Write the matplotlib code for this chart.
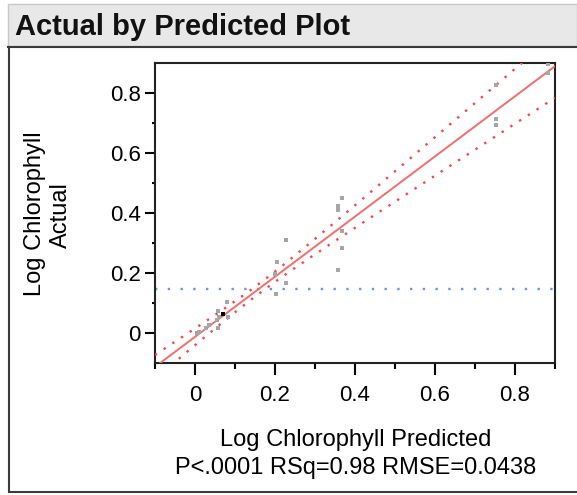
import matplotlib
matplotlib.use("Agg")
import matplotlib.pyplot as plt
import numpy as np
from matplotlib.lines import Line2D
from matplotlib.patches import Rectangle

plt.rcParams["font.family"] = ["Liberation Sans", "DejaVu Sans"]

# ---------------------------------------------------------------------------
# Data
# ---------------------------------------------------------------------------
predicted = [0.882, 0.882, 0.752, 0.752, 0.752,
             0.367, 0.357, 0.357, 0.367, 0.367, 0.357,
             0.227, 0.204, 0.201, 0.227, 0.202,
             0.079, 0.058, 0.061, 0.056, 0.083, 0.058,
             0.036, 0.028, 0.011, 0.004]
actual = [0.894, 0.864, 0.825, 0.711, 0.691,
          0.451, 0.422, 0.411, 0.339, 0.283, 0.211,
          0.311, 0.238, 0.198, 0.167, 0.131,
          0.103, 0.075, 0.055, 0.044, 0.055, 0.017,
          0.028, 0.017, 0.005, 0.000]
highlight_pred = [0.069]
highlight_actual = [0.064]

# fit summary
FIT_SLOPE = 1.0
FIT_INTERCEPT = -0.012
MEAN_ACTUAL = 0.148
MEAN_PRED = 0.160
N_OBS = 30
SXX = 0.41
T_CRIT = 2.05
RMSE = 0.0438
RSQ = 0.98

XLIM = (-0.1, 0.9)
YLIM = (-0.1, 0.9)

C_FIT = "#f06e6e"
C_BAND = "#f04848"
C_MEAN = "#6a94ec"
C_POINT = "#a6a6a6"

W, H = 577, 495


def fx(px):
    return px / W


def fy(py):
    return 1 - py / H


fig = plt.figure(figsize=(W / 100, H / 100), dpi=100)

# header bar + outline frame
fig.patches.append(Rectangle((fx(8), fy(46)), 1 - fx(8), fy(4) - fy(46),
                             transform=fig.transFigure, facecolor="#e8e8e8",
                             edgecolor="#c8c8c8", linewidth=1.0, zorder=0))
fig.lines.append(Line2D([fx(8), 1], [fy(46.5), fy(46.5)], transform=fig.transFigure,
                        color="#3a3a3a", linewidth=1.5))
fig.lines.append(Line2D([fx(9), fx(9)], [fy(46.5), fy(491.5)], transform=fig.transFigure,
                        color="#3a3a3a", linewidth=1.5))
fig.lines.append(Line2D([fx(9), 1], [fy(491.5), fy(491.5)], transform=fig.transFigure,
                        color="#3a3a3a", linewidth=1.5))
fig.text(fx(15), fy(35), "Actual by Predicted Plot", fontsize=21, fontweight="bold",
         va="baseline", ha="left", color="#111111")

ax = fig.add_axes([fx(155), fy(363.3), fx(555) - fx(155), fy(62.6) - fy(363.3)])

xs = np.linspace(XLIM[0], XLIM[1], 200)
fit = FIT_INTERCEPT + FIT_SLOPE * xs
half = T_CRIT * RMSE * np.sqrt(1 / N_OBS + (xs - MEAN_PRED) ** 2 / SXX)

ax.axhline(MEAN_ACTUAL, color=C_MEAN, linewidth=1.7, linestyle=(0, (1, 4.4)), zorder=2)
ax.plot(xs, fit + half, color=C_BAND, linewidth=1.7, linestyle=(0, (1, 3.4)), zorder=3)
ax.plot(xs, fit - half, color=C_BAND, linewidth=1.7, linestyle=(0, (1, 3.4)), zorder=3)
ax.plot(xs, fit, color=C_FIT, linewidth=1.4, zorder=3)
ax.plot(predicted, actual, "s", color=C_POINT, markersize=3.2, markeredgewidth=0, zorder=4)
ax.plot(highlight_pred, highlight_actual, "s", color="black", markersize=3.2,
        markeredgewidth=0, zorder=5)

ax.set_xlim(*XLIM)
ax.set_ylim(*YLIM)
ax.set_xticks([0, 0.2, 0.4, 0.6, 0.8])
ax.set_xticklabels(["0", "0.2", "0.4", "0.6", "0.8"])
ax.set_xticks([-0.1, 0.1, 0.3, 0.5, 0.7, 0.9], minor=True)
ax.set_yticks([0, 0.2, 0.4, 0.6, 0.8])
ax.set_yticklabels(["0", "0.2", "0.4", "0.6", "0.8"])
ax.set_yticks([0.1, 0.3, 0.5, 0.7], minor=True)

for s in ax.spines.values():
    s.set_linewidth(1.5)
    s.set_color("#222222")
ax.tick_params(axis="x", which="major", length=8.6, width=1.5, pad=7, labelsize=16,
               direction="out")
ax.tick_params(axis="x", which="minor", length=4.5, width=1.5, direction="out")
ax.tick_params(axis="y", which="major", length=7.2, width=1.5, pad=3, labelsize=16,
               direction="out")
ax.tick_params(axis="y", which="minor", length=2.2, width=1.5, direction="out")

# axis titles (y title is two rotated lines, anchored on their baselines)
fig.text(fx(41.5), fy(213.5), "Log Chlorophyll", rotation=90, rotation_mode="anchor",
         fontsize=17, ha="center", va="baseline")
fig.text(fx(66.5), fy(215), "Actual", rotation=90, rotation_mode="anchor",
         fontsize=17, ha="center", va="baseline")
fig.text(fx(356), fy(446), "Log Chlorophyll Predicted", fontsize=17,
         ha="center", va="baseline")
fig.text(fx(356), fy(474), f"P<.0001 RSq={RSQ:.2f} RMSE={RMSE:.4f}", fontsize=17,
         ha="center", va="baseline")

fig.savefig("out.png", dpi=100)
